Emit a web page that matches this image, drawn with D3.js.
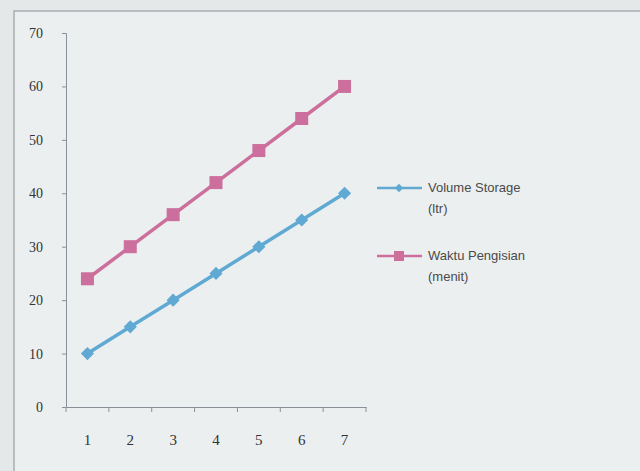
<!DOCTYPE html>
<html><head><meta charset="utf-8">
<script src="https://cdn.jsdelivr.net/npm/d3@7"></script>
<style>html,body{margin:0;padding:0;background:#e9ecec;}svg{display:block;}</style>
</head><body>
<script>
const categories = ["1","2","3","4","5","6","7"];
const volumeStorage = [10,15,20,25,30,35,40];
const waktuPengisian = [24,30,36,42,48,54,60];
const seriesNames = ["Volume Storage (ltr)", "Waktu Pengisian (menit)"];
const yTicks = [0,10,20,30,40,50,60,70];

const W = 640, H = 471;
const svg = d3.select("body").append("svg").attr("width", W).attr("height", H);
svg.append("rect").attr("width", W).attr("height", H).attr("fill", "#e4e8e9");
svg.append("rect").attr("x", 14).attr("y", 11).attr("width", 640).attr("height", 480)
  .attr("fill", "#eceff0").attr("stroke", "#a9adb3").attr("stroke-width", 1.5);

const x0 = 66, x1 = 366, yTop = 33, yBot = 407;
const x = d3.scaleBand().domain(categories).range([x0, x1]);
const y = d3.scaleLinear().domain([0, 70]).range([yBot, yTop]);

const font = "'Liberation Serif', 'DejaVu Serif', serif";
const yAxis = svg.append("g").attr("transform", `translate(${x0},0)`)
  .call(d3.axisLeft(y).tickValues(yTicks).tickSize(4).tickPadding(19).tickFormat(d3.format("d")));
yAxis.select(".domain").attr("stroke", "#8a9098");
yAxis.selectAll(".tick line").attr("stroke", "#8a9098");
yAxis.selectAll("text").attr("font-family", font).attr("font-size", 14).attr("fill", "#333");

const xAxis = svg.append("g").attr("transform", `translate(0,${yBot})`)
  .call(d3.axisBottom(x).tickSize(0).tickPadding(27));
xAxis.select(".domain").attr("stroke", "#8a9098");
xAxis.selectAll("text").attr("font-family", font).attr("font-size", 15).attr("fill", "#333");
const bounds = categories.map(c => x(c)).concat([x1]);
svg.append("g").selectAll("line").data(bounds).join("line")
  .attr("x1", d => d).attr("x2", d => d).attr("y1", yBot).attr("y2", yBot + 5)
  .attr("stroke", "#8a9098");

const blue = "#5fa9d3", pink = "#cc6f9c";
const cx = c => x(c) + x.bandwidth() / 2;
const line = d3.line().x((d, i) => cx(categories[i])).y(d => y(d));

svg.append("path").datum(waktuPengisian).attr("d", line).attr("fill", "none")
  .attr("stroke", pink).attr("stroke-width", 3.5);
svg.append("g").selectAll("rect").data(waktuPengisian).join("rect")
  .attr("x", (d, i) => cx(categories[i]) - 6.5).attr("y", d => y(d) - 6.5)
  .attr("width", 13).attr("height", 13).attr("fill", pink);

svg.append("path").datum(volumeStorage).attr("d", line).attr("fill", "none")
  .attr("stroke", blue).attr("stroke-width", 3.5);
svg.append("g").selectAll("path").data(volumeStorage).join("path")
  .attr("d", d3.symbol(d3.symbolDiamond2, 110)())
  .attr("transform", (d, i) => `translate(${cx(categories[i])},${y(d)})`)
  .attr("fill", blue);

const leg = svg.append("g");
const items = [
  {color: blue, y: 188, diamond: true},
  {color: pink, y: 256, diamond: false}
];
const lf = "'Liberation Sans', Arial, sans-serif";
items.forEach((it, k) => {
  leg.append("line").attr("x1", 377).attr("x2", 422).attr("y1", it.y).attr("y2", it.y)
    .attr("stroke", it.color).attr("stroke-width", 2.5);
  if (it.diamond) {
    leg.append("path").attr("d", d3.symbol(d3.symbolDiamond2, 45)())
      .attr("transform", `translate(399,${it.y})`).attr("fill", it.color);
  } else {
    leg.append("rect").attr("x", 394).attr("y", it.y - 5).attr("width", 10).attr("height", 10).attr("fill", it.color);
  }
  const parts = seriesNames[k].split(" (");
  leg.append("text").attr("x", 428).attr("y", it.y + 4)
    .attr("font-family", lf).attr("font-size", 13).attr("fill", "#4a4a4a").text(parts[0]);
  leg.append("text").attr("x", 428).attr("y", it.y + 25)
    .attr("font-family", lf).attr("font-size", 13).attr("fill", "#4a4a4a").text("(" + parts[1]);
});
</script>
</body></html>
